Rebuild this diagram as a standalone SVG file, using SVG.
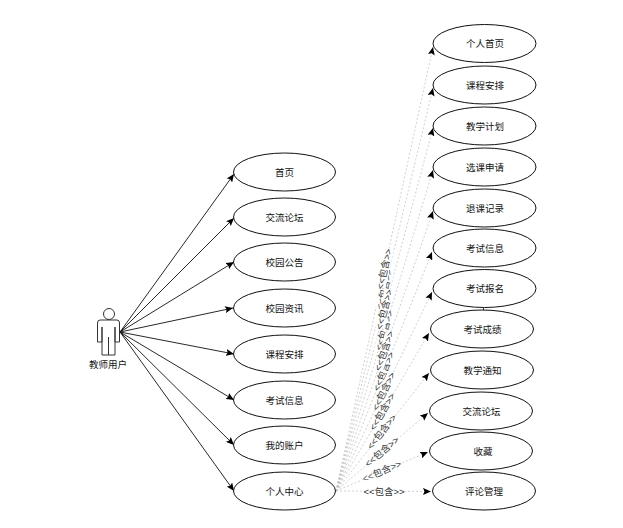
<svg xmlns="http://www.w3.org/2000/svg" width="623" height="528" viewBox="0 0 623 528">
<style>
text{font-family:"Liberation Sans","Noto Sans CJK SC",sans-serif;font-size:9.5px;fill:#111;text-anchor:middle}
.n ellipse{fill:#fff;stroke:#111;stroke-width:1}
.a{stroke:#111;stroke-width:.9;fill:none;marker-end:url(#m)}
.d{stroke:#bbb;stroke-width:.7;stroke-dasharray:2 2;fill:none;marker-end:url(#m)}
.l text{font-size:9.5px;fill:#333}
.l rect{fill:#fff}
</style>
<defs>
<marker id="m" viewBox="0 0 8 7" refX="8" refY="3.500" markerWidth="8" markerHeight="7" markerUnits="userSpaceOnUse" orient="auto"><path d="M0 0L8 3.500L0 7L1.500 3.500Z" fill="#000"/></marker>
</defs>
<rect width="623" height="528" fill="#fff"/>
<g id="connectors">
<line class="a" x1="120" y1="332" x2="234" y2="174"/>
<line class="a" x1="120" y1="332" x2="234" y2="218"/>
<line class="a" x1="120" y1="332" x2="234" y2="262"/>
<line class="a" x1="120" y1="332" x2="233" y2="308"/>
<line class="a" x1="120" y1="332" x2="234" y2="354"/>
<line class="a" x1="120" y1="332" x2="234" y2="400"/>
<line class="a" x1="120" y1="332" x2="234" y2="445"/>
<line class="a" x1="120" y1="332" x2="234" y2="491"/>
<line class="d" x1="336" y1="491" x2="433" y2="47"/>
<line class="d" x1="336" y1="491" x2="433" y2="88"/>
<line class="d" x1="336" y1="491" x2="433" y2="128"/>
<line class="d" x1="336" y1="491" x2="433" y2="170"/>
<line class="d" x1="336" y1="491" x2="433" y2="211"/>
<line class="d" x1="336" y1="491" x2="432" y2="252"/>
<line class="d" x1="336" y1="491" x2="432" y2="292"/>
<line class="d" x1="336" y1="491" x2="429" y2="333"/>
<line class="d" x1="336" y1="491" x2="429" y2="373"/>
<line class="d" x1="336" y1="491" x2="428" y2="413"/>
<line class="d" x1="336" y1="491" x2="428" y2="452"/>
<line class="d" x1="336" y1="491" x2="431" y2="491.5"/>
<line x1="483.5" y1="307" x2="483.5" y2="311" stroke="#111" stroke-width=".8"/>
<g class="l">
<g transform="translate(384.5 289.5) rotate(-76.5)"><rect x="-19" y="-5" width="38" height="10"/><text y="3">&lt;&lt;包含&gt;&gt;</text></g>
<g transform="translate(384.5 330.5) rotate(-73.2)"><rect x="-19" y="-5" width="38" height="10"/><text y="3">&lt;&lt;包含&gt;&gt;</text></g>
<g transform="translate(384 371.5) rotate(-68.1)"><rect x="-19" y="-5" width="38" height="10"/><text y="3">&lt;&lt;包含&gt;&gt;</text></g>
<g transform="translate(384.5 269) rotate(-77.7)"><rect x="-19" y="-5" width="38" height="10"/><text y="3">&lt;&lt;包含&gt;&gt;</text></g>
<g transform="translate(384.5 309.5) rotate(-75)"><rect x="-19" y="-5" width="38" height="10"/><text y="3">&lt;&lt;包含&gt;&gt;</text></g>
<g transform="translate(384.5 351) rotate(-70.9)"><rect x="-19" y="-5" width="38" height="10"/><text y="3">&lt;&lt;包含&gt;&gt;</text></g>
<g transform="translate(384 391.5) rotate(-64.2)"><rect x="-19" y="-5" width="38" height="10"/><text y="3">&lt;&lt;包含&gt;&gt;</text></g>
<g transform="translate(382.5 412) rotate(-59.5)"><rect x="-19" y="-5" width="38" height="10"/><text y="3">&lt;&lt;包含&gt;&gt;</text></g>
<g transform="translate(382 432) rotate(-52)"><rect x="-19" y="-5" width="38" height="10"/><text y="3">&lt;&lt;包含&gt;&gt;</text></g>
<g transform="translate(382 452) rotate(-40.3)"><rect x="-19" y="-5" width="38" height="10"/><text y="3">&lt;&lt;包含&gt;&gt;</text></g>
<g transform="translate(382 471.5) rotate(-23)"><rect x="-19" y="-5" width="38" height="10"/><text y="3">&lt;&lt;包含&gt;&gt;</text></g>
<g transform="translate(384 491.5)"><rect x="-19" y="-5" width="38" height="10"/><text y="3">&lt;&lt;包含&gt;&gt;</text></g>
</g>
</g>
<g id="actor">
<circle cx="109" cy="314" r="5.5" fill="#fff" stroke="#333" stroke-width="1"/>
<path d="M100 320H117Q119.5 320 119.5 323V342H115V327M102 327V342H97.5V323Q97.5 320 100 320M102 327V355H115V327M108.5 337V355" fill="#fff" stroke="#333" stroke-width="1"/>
<text x="108" y="368">教师用户</text>
</g>
<g id="n1" class="n"><ellipse cx="284.5" cy="172" rx="51" ry="19"/><text x="284.5" y="175.500">首页</text></g>
<g id="n2" class="n"><ellipse cx="284.5" cy="217" rx="51" ry="19"/><text x="284.5" y="220.500">交流论坛</text></g>
<g id="n3" class="n"><ellipse cx="284.5" cy="262" rx="51" ry="19"/><text x="284.5" y="265.500">校园公告</text></g>
<g id="n4" class="n"><ellipse cx="284.5" cy="308" rx="51" ry="19"/><text x="284.500" y="311.500">校园资讯</text></g>
<g id="n5" class="n"><ellipse cx="284.5" cy="354" rx="51" ry="19"/><text x="284.5" y="357.500">课程安排</text></g>
<g id="n6" class="n"><ellipse cx="284.5" cy="400" rx="51" ry="19"/><text x="284.5" y="403.500">考试信息</text></g>
<g id="n7" class="n"><ellipse cx="284.5" cy="445" rx="51" ry="19"/><text x="284.5" y="448.500">我的账户</text></g>
<g id="n8" class="n"><ellipse cx="284.5" cy="491" rx="51" ry="19"/><text x="284.5" y="494.500">个人中心</text></g>
<g id="r1" class="n"><ellipse cx="484.5" cy="43.500" rx="51.500" ry="19"/><text x="485" y="47">个人首页</text></g>
<g id="r2" class="n"><ellipse cx="484.5" cy="85" rx="51.500" ry="19"/><text x="485" y="88.500">课程安排</text></g>
<g id="r3" class="n"><ellipse cx="484.5" cy="126" rx="51.500" ry="19"/><text x="485" y="129.500">教学计划</text></g>
<g id="r4" class="n"><ellipse cx="484.5" cy="167" rx="51.500" ry="19"/><text x="485" y="170.500">选课申请</text></g>
<g id="r5" class="n"><ellipse cx="484.5" cy="208" rx="51.500" ry="19"/><text x="485" y="211.500">退课记录</text></g>
<g id="r6" class="n"><ellipse cx="484.5" cy="248" rx="51.500" ry="19"/><text x="485" y="251.500">考试信息</text></g>
<g id="r7" class="n"><ellipse cx="484.5" cy="288.500" rx="51.500" ry="19"/><text x="485" y="292">考试报名</text></g>
<g id="r8" class="n"><ellipse cx="482" cy="329" rx="51.500" ry="19"/><text x="482.500" y="332.500">考试成绩</text></g>
<g id="r9" class="n"><ellipse cx="482" cy="370" rx="51.500" ry="19"/><text x="482.500" y="373.500">教学通知</text></g>
<g id="r10" class="n"><ellipse cx="481" cy="411" rx="51.500" ry="19"/><text x="481.500" y="414.500">交流论坛</text></g>
<g id="r11" class="n"><ellipse cx="481" cy="451" rx="51.500" ry="19"/><text x="483" y="454.500">收藏</text></g>
<g id="r12" class="n"><ellipse cx="484" cy="491" rx="51.500" ry="19"/><text x="484" y="494.500">评论管理</text></g>
</svg>
